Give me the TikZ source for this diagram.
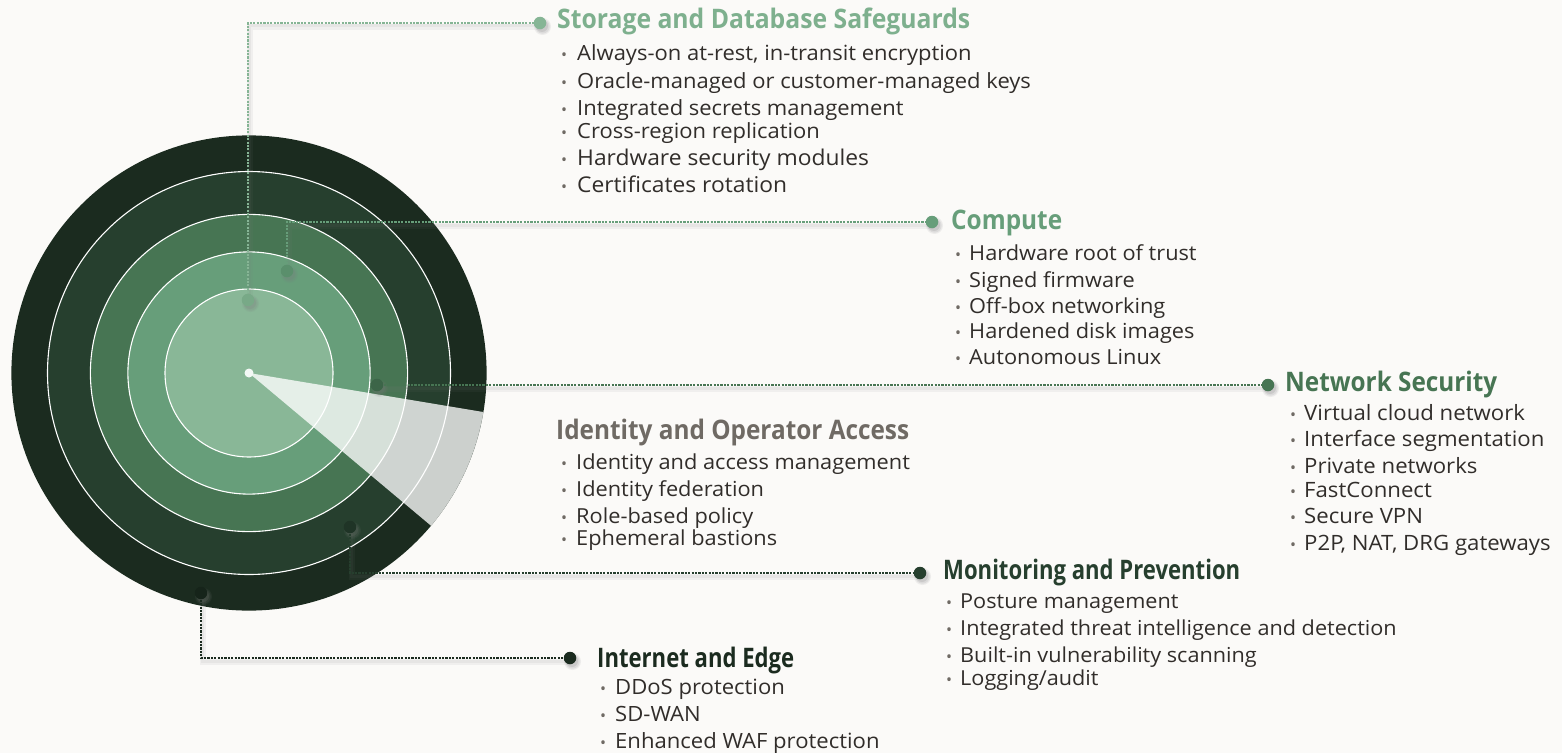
\documentclass[tikz,border=0pt]{standalone}
\usepackage{fontspec}
\usepackage{graphicx}
\setmainfont{Open Sans}
\newfontfamily\bodyfam{Open Sans}[FakeStretch=1.05]
\usetikzlibrary{calc}
\definecolor{bgc}{HTML}{FBFAF8}
\definecolor{c1}{HTML}{1B2B1F}
\definecolor{c2}{HTML}{263F2E}
\definecolor{c3}{HTML}{477553}
\definecolor{c4}{HTML}{679E7A}
\definecolor{c5}{HTML}{89B797}
\definecolor{txt}{HTML}{312D2A}
\definecolor{bulc}{HTML}{6F6A64}
\definecolor{hS}{HTML}{7EB08E}
\definecolor{hId}{HTML}{6F6A64}
\definecolor{lS}{HTML}{86B595}
\definecolor{dS}{HTML}{78A987}
\definecolor{dC}{HTML}{5A8F6C}
\definecolor{dN}{HTML}{3C6548}
\definecolor{dM}{HTML}{1F3426}
\definecolor{dI}{HTML}{16241A}
\definecolor{shc}{HTML}{7A7A7A}
\newcommand\myhead{\fontsize{27}{30}\selectfont\bfseries}
\newcommand\mysz[1]{\bodyfam\fontsize{#1}{24}\selectfont}
\newcommand\mybul{\fontsize{16}{20}\selectfont}
\newcommand\dotshadow[1]{%
  \fill[shc, opacity=0.10] ($(#1)+(2.5,3.5)$) circle (8.5);
  \fill[shc, opacity=0.14] ($(#1)+(2.5,3.5)$) circle (7.2);
  \fill[shc, opacity=0.18] ($(#1)+(2,3)$) circle (6);}
\pgfdeclarelayer{bgl}
\pgfdeclarelayer{shad}
\pgfdeclarelayer{lines}
\pgfsetlayers{bgl,shad,lines,main}
\tikzset{
  dot/.style={circle, inner sep=0pt, minimum size=12.5bp},
  conn/.style={line width=2.7bp, dash pattern=on 2.1bp off 1.3bp},
  lshadow/.style={shc, line width=6bp, opacity=0.08},
  lshadowb/.style={shc, line width=3bp, opacity=0.08},
  head/.style={anchor=base west, inner sep=0pt, font=\myhead},
  itm/.style={anchor=base west, inner sep=0pt, text=txt},
  bul/.style={anchor=base west, inner sep=0pt, font=\mybul, text=bulc},
}
\begin{document}
\begin{tikzpicture}[x=1bp,y=-1bp]
\useasboundingbox (0,0) rectangle (1562,753);
\begin{pgfonlayer}{bgl}
  \fill[bgc] (0,0) rectangle (1562,753);
  \coordinate (C) at (249,373);
  \fill[c1] (C) circle (237.6);
  \fill[c2] (C) circle (201.5);
  \fill[c3] (C) circle (158.6);
  \fill[c4] (C) circle (121.1);
  \fill[c5] (C) circle (84);
  \foreach \r in {201.5,158.6,121.1,84} \draw[white, line width=1.1bp] (C) circle (\r);
  \fill[white, opacity=0.78] (C) -- ++(9.46:237.6) arc[start angle=9.46, end angle=40, radius=237.6] -- cycle;
\end{pgfonlayer}
\node[circle, inner sep=0pt, minimum size=9bp, fill=white!90!c5] (ctr) at (C) {};

% dots on rings
\node[dot, fill=dS] (sd) at (248,300) {};
\node[dot, fill=dC] (cd) at (287,271) {};
\node[dot, fill=dN] (nd) at (377,385) {};
\node[dot, fill=dM] (md) at (350,527) {};
\node[dot, fill=dI] (id) at (201,593) {};
% end dots
\node[dot, fill=lS] (se) at (540,23) {};
\node[dot, fill=c4] (ce) at (932,222) {};
\node[dot, fill=c3] (ne) at (1268,385) {};
\node[dot, fill=c2] (me) at (920,573) {};
\node[dot, fill=c1] (ie) at (570,658) {};

\begin{pgfonlayer}{shad}
  \foreach \d in {sd,cd,nd,md,id,se,ce,ne,me,ie} {\dotshadow{\d}}
  \foreach \a/\b in {sd/se,cd/ce,md/me,id/ie} {
    \draw[lshadow] ($(\a)+(2,4)$) |- ($(\b)+(2,4)$);
    \draw[lshadowb] ($(\a)+(1.5,3)$) |- ($(\b)+(1.5,3)$);
  }
  \draw[lshadow] ($(nd)+(2,4)$) -- ($(ne)+(2,4)$);
  \draw[lshadowb] ($(nd)+(1.5,3)$) -- ($(ne)+(1.5,3)$);
\end{pgfonlayer}
\begin{pgfonlayer}{lines}
  \draw[conn, lS] (sd.center) |- (se.center);
  \draw[conn, c4] (cd.center) |- (ce.center);
  \draw[conn, c3] (nd.center) -- (ne.center);
  \draw[conn, c2] (md.center) |- (me.center);
  \draw[conn, c1] (id.center) |- (ie.center);
\end{pgfonlayer}

% Storage
\node[head, text=hS] (sh) at (557,29) {\resizebox{413bp}{\height}{Storage and Database Safeguards}};
\foreach \yy/\sz/\txt [count=\i] in {61/21/{Always-on at-rest, in-transit encryption},88/21/{Oracle-managed or customer-managed keys},115/21/{Integrated secrets management},138/21/{Cross-region replication},165/21.8/{Hardware security modules},192/21.8/{Certificates rotation}}{
  \node[bul] (sb\i) at (561,\yy) {•};
  \node[itm, font=\mysz{\sz}] (st\i) at (577,\yy) {\txt};
}
% Compute
\node[head, text=c4] (ch) at (951,229) {\resizebox{111bp}{\height}{Compute}};
\foreach \yy/\txt [count=\i] in {260/{Hardware root of trust},287/{Signed firmware},313/{Off-box networking},338/{Hardened disk images},364/{Autonomous Linux}}{
  \node[bul] (cb\i) at (955,\yy) {•};
  \node[itm, font=\mysz{20.8}] (ct\i) at (969,\yy) {\txt};
}
% Network
\node[head, text=c3] (nh) at (1285,391) {\resizebox{212bp}{\height}{Network Security}};
\foreach \yy/\txt [count=\i] in {420/{Virtual cloud network},446/{Interface segmentation},473/{Private networks},497/{FastConnect},523/{Secure VPN},550/{P2P, NAT, DRG gateways}}{
  \node[bul] (nb\i) at (1290,\yy) {•};
  \node[itm, font=\mysz{21.2}] (nt\i) at (1304,\yy) {\txt};
}
% Identity
\node[head, text=hId] (dh) at (556,439) {\resizebox{353bp}{\height}{Identity and Operator Access}};
\foreach \yy/\txt [count=\i] in {469/{Identity and access management},496/{Identity federation},523/{Role-based policy},545/{Ephemeral bastions}}{
  \node[bul] (db\i) at (561,\yy) {•};
  \node[itm, font=\mysz{20.8}] (dt\i) at (576,\yy) {\txt};
}
% Monitoring
\node[head, text=c2] (mh) at (943,579) {\resizebox{297bp}{\height}{Monitoring and Prevention}};
\foreach \yy/\txt [count=\i] in {608/{Posture management},635/{Integrated threat intelligence and detection},662/{Built-in vulnerability scanning},685/{Logging/audit}}{
  \node[bul] (mb\i) at (946,\yy) {•};
  \node[itm, font=\mysz{20.7}] (mt\i) at (960,\yy) {\txt};
}
% Internet
\node[head, text=c1] (ih) at (597,667) {\resizebox{197bp}{\height}{Internet and Edge}};
\foreach \yy/\txt [count=\i] in {694/{DDoS protection},721/{SD-WAN},748/{Enhanced WAF protection}}{
  \node[bul] (ib\i) at (600,\yy) {•};
  \node[itm, font=\mysz{21.1}] (it\i) at (615,\yy) {\txt};
}
\end{tikzpicture}
\end{document}
